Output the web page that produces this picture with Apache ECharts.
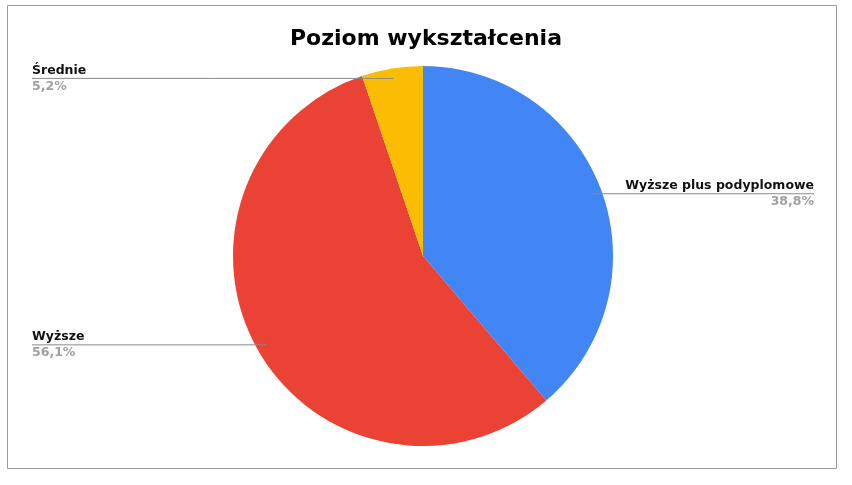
<!DOCTYPE html>
<html>
<head>
<meta charset="utf-8">
<script src="https://cdn.jsdelivr.net/npm/echarts@6/dist/echarts.min.js"></script>
<style>
html,body{margin:0;padding:0;background:#fff;}
#chart{width:852px;height:485px;}
</style>
</head>
<body>
<div id="chart"></div>
<script>
const titleText = 'Poziom wykształcenia';
const categories = ['Wyższe plus podyplomowe', 'Wyższe', 'Średnie'];
const values = [38.8, 56.1, 5.2];
const colors = ['#4285F4', '#EA4335', '#FBBC04'];

const CX = 423, CY = 256, R = 190;
const chart = echarts.init(document.getElementById('chart'));
const fmt = v => v.toFixed(1).replace('.', ',') + '%';
const pieData = categories.map((c, i) => ({ name: c, value: values[i], itemStyle: { color: colors[i] } }));

chart.setOption({
  backgroundColor: '#fff',
  animation: false,
  title: {
    text: titleText,
    left: 'center',
    top: 23,
    padding: [5, 12, 5, 5],
    textStyle: { fontFamily: 'DejaVu Sans', fontWeight: 'bold', fontSize: 22, color: '#000' }
  },
  graphic: [{
    type: 'rect',
    shape: { x: 7.5, y: 5.5, width: 829, height: 463 },
    style: { fill: 'none', stroke: '#9a9a9a', lineWidth: 1 },
    silent: true
  }],
  series: [{
    type: 'pie',
    z: 2,
    center: [CX, CY],
    radius: R,
    startAngle: 90,
    clockwise: true,
    data: pieData,
    label: { show: false },
    labelLine: { show: false }
  }, {
    type: 'pie',
    z: 5,
    silent: true,
    center: [CX, CY],
    radius: R,
    startAngle: 90,
    clockwise: true,
    data: pieData.map(d => ({ name: d.name, value: d.value, itemStyle: { color: 'rgba(0,0,0,0)' } })),
    label: {
      show: true,
      position: 'outside',
      formatter: p => '{n|' + p.name + '}\n{v|' + fmt(p.value) + '}',
      rich: {
        n: { fontFamily: 'DejaVu Sans', fontWeight: 'bold', fontSize: 12.5, color: '#111', lineHeight: 16 },
        v: { fontFamily: 'DejaVu Sans', fontWeight: 'bold', fontSize: 12.5, color: '#a0a0a0', lineHeight: 16 }
      }
    },
    labelLine: { show: true, lineStyle: { color: '#8a8a8a', width: 1 } },
    labelLayout: function (params) {
      const p = params.labelLinePoints;
      if (!p) return {};
      const k = 180 / R;
      const px = CX + (p[0][0] - CX) * k;
      const py = CY + (p[0][1] - CY) * k;
      const left = px < CX;
      const farX = left ? 32 : 814;
      return {
        x: farX, y: py,
        align: left ? 'left' : 'right',
        verticalAlign: 'middle',
        labelLinePoints: [[px, py], [(px + farX) / 2, py], [farX, py]]
      };
    }
  }]
});
</script>
</body>
</html>
